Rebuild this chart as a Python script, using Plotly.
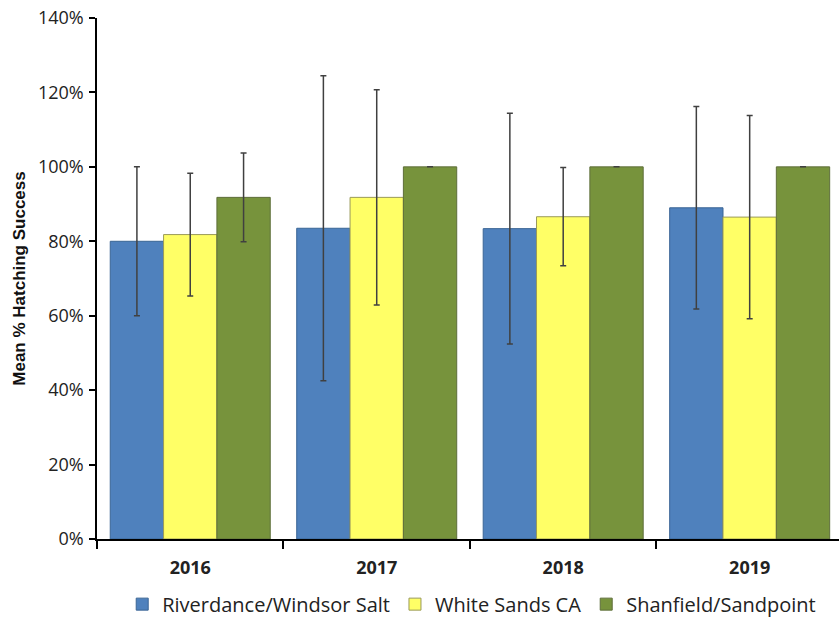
import plotly.graph_objects as go

years = ["2016", "2017", "2018", "2019"]
series_names = ["Riverdance/Windsor Salt", "White Sands CA", "Shanfield/Sandpoint"]

# mean hatching success (fraction) and +/- error for each site
riverdance = [0.800, 0.835, 0.834, 0.890]
riverdance_err = [0.200, 0.410, 0.310, 0.272]
white_sands = [0.818, 0.918, 0.866, 0.865]
white_sands_err = [0.165, 0.289, 0.132, 0.273]
shanfield = [0.918, 1.000, 1.000, 1.000]
shanfield_err = [0.119, 0.0, 0.0, 0.0]

values = [riverdance, white_sands, shanfield]
errors = [riverdance_err, white_sands_err, shanfield_err]
fills = ["#4F81BD", "#FFFF66", "#77933C"]
edges = ["#3A6595", "#9A9A5A", "#5E6E3A"]

fig = go.Figure()
for name, vals, errs, fc, ec in zip(series_names, values, errors, fills, edges):
    fig.add_trace(go.Bar(
        x=years, y=vals, name=name,
        marker=dict(color=fc, line=dict(color=ec, width=1)),
        error_y=dict(type="data", array=errs, visible=True,
                     color="#404040", thickness=1.5, width=3),
    ))

fig.update_layout(
    width=839, height=619,
    margin=dict(l=97, r=0, t=18, b=80, autoexpand=False),
    paper_bgcolor="white", plot_bgcolor="white",
    barmode="group", bargap=0.142, bargroupgap=0,
    font=dict(family="Open Sans", color="#222222"),
    showlegend=True,
    legend=dict(orientation="h", x=0.505, xanchor="center", y=-0.125, yanchor="middle",
                font=dict(size=20, family="Open Sans", color="#222222"),
                itemwidth=30, traceorder="normal"),
    xaxis=dict(
        type="category", range=[-0.5, 3.479], automargin=False,
        showline=True, linecolor="black", linewidth=1.5,
        ticks="outside", tickson="boundaries", ticklen=8, tickcolor="black",
        tickwidth=1.5, ticklabelstandoff=12,
        tickfont=dict(size=18, family="Open Sans", color="#222222", weight="bold"),
        showgrid=False, zeroline=False,
    ),
    yaxis=dict(
        range=[0, 1.4], dtick=0.2, tickformat=".0%", automargin=False,
        showline=True, linecolor="black", linewidth=1.5,
        ticks="outside", ticklen=6, tickcolor="black", tickwidth=1.5,
        ticklabelstandoff=2,
        tickfont=dict(size=18, family="Open Sans", color="#222222"),
        showgrid=False, zeroline=False,
        title=dict(text="Mean % Hatching Success",
                   font=dict(size=17, family="Liberation Sans", color="#111111", weight="bold"),
                   standoff=8),
    ),
)

fig.write_html("out.html")
